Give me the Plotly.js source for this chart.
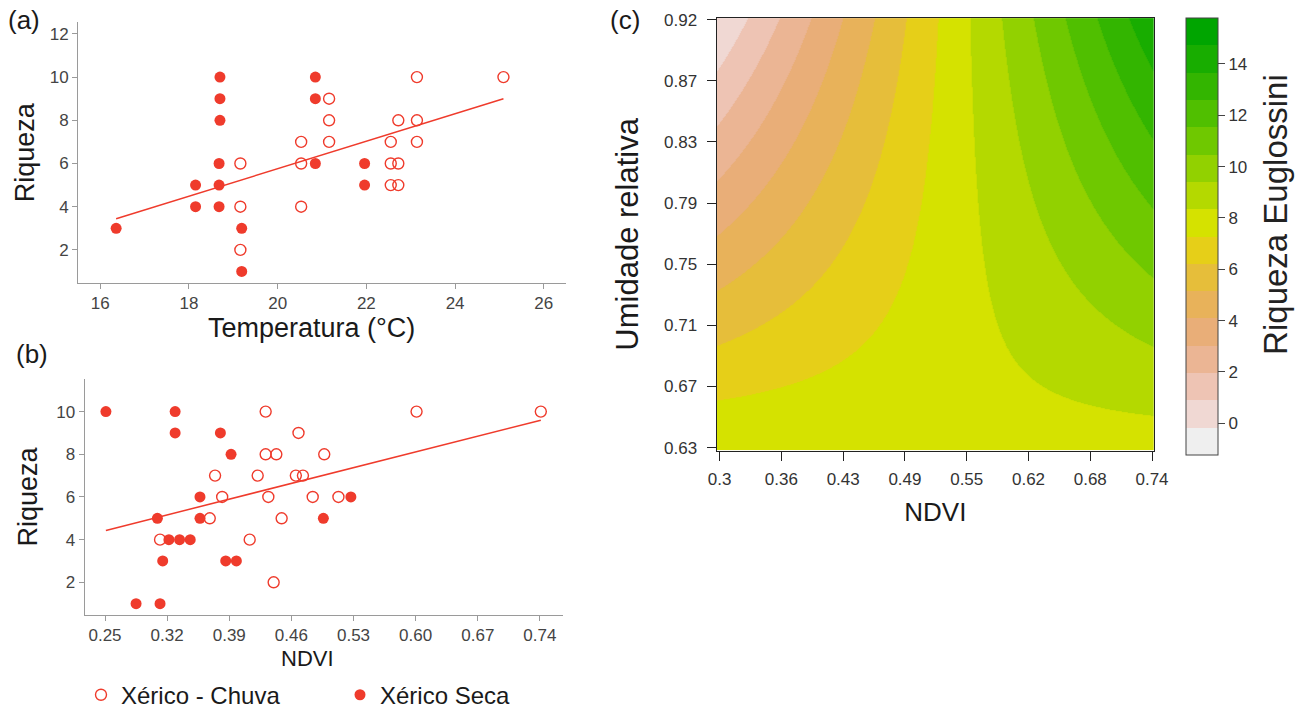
<!DOCTYPE html>
<html>
<head>
<meta charset="utf-8">
<script src="https://cdn.plot.ly/plotly-3.0.1.min.js"></script>
<style>
  html, body { margin: 0; padding: 0; background: #ffffff; }
  #chart { width: 1309px; height: 718px; }
</style>
</head>
<body>
<div id="chart"></div>
<script>
// ---------- (a) Riqueza x Temperatura ----------
const tempSeca = [16.36, 18.15, 18.15, 18.70, 18.70, 18.70, 18.68, 18.68, 18.68, 19.19, 19.19, 20.85, 20.85, 20.85, 21.96, 21.96];
const riqTempSeca = [3, 5, 4, 10, 9, 8, 6, 5, 4, 3, 1, 10, 9, 6, 6, 5];
const tempChuva = [19.16, 19.16, 19.16, 20.53, 20.53, 20.53, 21.16, 21.16, 21.16, 22.55, 22.55, 22.55, 22.72, 22.72, 22.72, 23.14, 23.14, 23.14, 25.09];
const riqTempChuva = [6, 4, 2, 7, 6, 4, 9, 8, 7, 7, 6, 5, 8, 6, 5, 10, 8, 7, 10];
const tempFitX = [16.36, 25.09];
const tempFitY = [3.44, 9.0];
const tempTicks = [16, 18, 20, 22, 24, 26];
const riqTicksA = [2, 4, 6, 8, 10, 12];

// ---------- (b) Riqueza x NDVI ----------
const ndviSeca = [0.251, 0.329, 0.329, 0.380, 0.392, 0.357, 0.357, 0.309, 0.322, 0.334, 0.346, 0.315, 0.386, 0.398, 0.285, 0.312, 0.496, 0.527];
const riqNdviSeca = [10, 10, 9, 9, 8, 6, 5, 5, 4, 4, 4, 3, 3, 3, 1, 1, 5, 6];
const ndviChuva = [0.312, 0.368, 0.374, 0.382, 0.413, 0.422, 0.431, 0.431, 0.443, 0.434, 0.440, 0.449, 0.468, 0.465, 0.473, 0.484, 0.497, 0.513, 0.601, 0.741];
const riqNdviChuva = [4, 5, 7, 6, 4, 7, 10, 8, 8, 6, 2, 5, 9, 7, 7, 6, 8, 6, 10, 10];
const ndviFitX = [0.251, 0.741];
const ndviFitY = [4.43, 9.6];
const ndviTicksB = [0.25, 0.32, 0.39, 0.46, 0.53, 0.60, 0.67, 0.74];
const ndviTickTextB = ['0.25', '0.32', '0.39', '0.46', '0.53', '0.60', '0.67', '0.74'];
const riqTicksB = [2, 4, 6, 8, 10];

// ---------- (c) Riqueza Euglossini surface over NDVI x Umidade relativa ----------
const surfNdvi = [0.297, 0.742];          // grid columns
const surfUmid = [0.628, 0.921];          // grid rows
const surfRiqueza = [[8.24, 7.80],        // row at lowest humidity
                     [-0.14, 14.50]];     // row at highest humidity
const ndviTickTextC = ['0.3', '0.36', '0.43', '0.49', '0.55', '0.62', '0.68', '0.74'];
const umidTickTextC = ['0.63', '0.67', '0.71', '0.75', '0.79', '0.83', '0.87', '0.92'];
const levelStart = -1.24;
const levelSize = 1.064;
const levelColors = ['#efefef', '#f0d8d3', '#eec4b4', '#ebb594', '#e9ae78', '#e8b25a',
                     '#e6be3a', '#e6cf18', '#d5e200', '#b4d900', '#92d100', '#6fc800',
                     '#50bf00', '#33b500', '#18ad00', '#00a500'];
const barTicks = [0, 2, 4, 6, 8, 10, 12, 14];

// ---------- helpers ----------
const W = 1309, H = 718;
const px = v => v / W;
const py = v => 1 - v / H;
const RED = '#ef3b2c';
const FONT = 'Liberation Sans, Arial, Helvetica, sans-serif';

// stepped colour scale, one flat band per level
const nLev = levelColors.length;
const stepScale = [];
levelColors.forEach((c, i) => {
  stepScale.push([i / nLev, c]);
  stepScale.push([(i + 1) / nLev, c]);
});

const tickValsC = (lo, hi, n) => Array.from({length: n}, (_, i) => lo + i * (hi - lo) / (n - 1));

const openMarker = {symbol: 'circle-open', size: 11, color: RED, line: {color: RED, width: 1.4}};
const fillMarker = {symbol: 'circle', size: 11, color: RED, line: {width: 0}};

const traces = [
  // (a)
  {x: tempFitX, y: tempFitY, type: 'scatter', mode: 'lines', line: {color: RED, width: 1.5},
   xaxis: 'x', yaxis: 'y', showlegend: false, hoverinfo: 'skip'},
  {x: tempChuva, y: riqTempChuva, type: 'scatter', mode: 'markers', name: 'Xérico - Chuva',
   marker: openMarker, xaxis: 'x', yaxis: 'y', legend: 'legend'},
  {x: tempSeca, y: riqTempSeca, type: 'scatter', mode: 'markers', name: 'Xérico Seca',
   marker: fillMarker, xaxis: 'x', yaxis: 'y', legend: 'legend2'},
  // (b)
  {x: ndviFitX, y: ndviFitY, type: 'scatter', mode: 'lines', line: {color: RED, width: 1.5},
   xaxis: 'x2', yaxis: 'y2', showlegend: false, hoverinfo: 'skip'},
  {x: ndviChuva, y: riqNdviChuva, type: 'scatter', mode: 'markers', name: 'Xérico - Chuva',
   marker: openMarker, xaxis: 'x2', yaxis: 'y2', showlegend: false},
  {x: ndviSeca, y: riqNdviSeca, type: 'scatter', mode: 'markers', name: 'Xérico Seca',
   marker: fillMarker, xaxis: 'x2', yaxis: 'y2', showlegend: false},
  // (c)
  {type: 'heatmap', x: surfNdvi, y: surfUmid, z: surfRiqueza, zsmooth: 'best',
   xaxis: 'x3', yaxis: 'y3', showlegend: false,
   colorscale: stepScale, zmin: levelStart, zmax: levelStart + nLev * levelSize,
   colorbar: {
     x: px(1186), xanchor: 'left', xpad: 0,
     y: py(18.3), yanchor: 'top', ypad: 0,
     len: 436.7, lenmode: 'pixels', thickness: 32, thicknessmode: 'pixels',
     outlinewidth: 1, outlinecolor: '#444',
     tickmode: 'array', tickvals: barTicks, ticks: 'outside', ticklen: 7, tickcolor: '#444',
     tickfont: {family: FONT, size: 17, color: '#333'},
     title: {text: ''}
   }}
];

const scatterX = {
  showline: true, linecolor: '#9a9a9a', linewidth: 1, showgrid: false, zeroline: false,
  ticks: 'outside', ticklen: 5, tickcolor: '#9a9a9a', tickfont: {size: 17, color: '#444'}
};

const layout = {
  width: W, height: H,
  margin: {l: 0, r: 0, t: 0, b: 0},
  paper_bgcolor: '#ffffff', plot_bgcolor: '#ffffff',
  font: {family: FONT, color: '#222'},
  xaxis: Object.assign({}, scatterX, {
    domain: [px(78), px(566)], range: [15.5, 26.5], anchor: 'y',
    tickmode: 'array', tickvals: tempTicks
  }),
  yaxis: Object.assign({}, scatterX, {
    domain: [py(285.7), py(22.7)], range: [0.47, 12.53], anchor: 'x',
    tickmode: 'array', tickvals: riqTicksA,
    title: {text: 'Riqueza', font: {size: 27, color: '#1a1a1a'}, standoff: 7}
  }),
  xaxis2: Object.assign({}, scatterX, {
    domain: [px(84.6), px(563)], range: [0.227, 0.766], anchor: 'y2',
    tickmode: 'array', tickvals: ndviTicksB, ticktext: ndviTickTextB
  }),
  yaxis2: Object.assign({}, scatterX, {
    domain: [py(621), py(382.7)], range: [0.47, 11.53], anchor: 'x2',
    tickmode: 'array', tickvals: riqTicksB,
    title: {text: 'Riqueza', font: {size: 27, color: '#1a1a1a'}, standoff: 10}
  }),
  xaxis3: {
    domain: [px(716.7), px(1154)], range: surfNdvi, anchor: 'y3',
    showline: true, mirror: true, linecolor: '#222', linewidth: 1.2,
    showgrid: false, zeroline: false, ticks: 'outside', ticklen: 9, tickcolor: '#222',
    tickmode: 'array', tickvals: tickValsC(0.3, 0.74, 8), ticktext: ndviTickTextC,
    tickfont: {size: 17, color: '#333'}, ticklabelstandoff: 4,
    title: {text: 'NDVI', font: {size: 26, color: '#1a1a1a'}, standoff: 14}
  },
  yaxis3: {
    domain: [py(455), py(18.3)], range: surfUmid, anchor: 'x3',
    showline: true, mirror: true, linecolor: '#222', linewidth: 1.2,
    showgrid: false, zeroline: false, ticks: 'outside', ticklen: 9, tickcolor: '#222',
    tickmode: 'array', tickvals: tickValsC(0.63, 0.92, 8), ticktext: umidTickTextC,
    tickfont: {size: 17, color: '#333'}, ticklabelstandoff: 6,
    title: {text: 'Umidade relativa', font: {size: 31, color: '#1a1a1a'}, standoff: 16}
  },
  showlegend: true,
  legend: {
    x: px(81), xanchor: 'left', y: py(702), yanchor: 'middle',
    orientation: 'h', bgcolor: 'rgba(0,0,0,0)', borderwidth: 0,
    font: {family: FONT, size: 24, color: '#1a1a1a'}
  },
  legend2: {
    x: px(340), xanchor: 'left', y: py(702), yanchor: 'middle',
    orientation: 'h', bgcolor: 'rgba(0,0,0,0)', borderwidth: 0,
    font: {family: FONT, size: 24, color: '#1a1a1a'}
  },
  annotations: [
    {text: '(a)', x: px(6), y: py(20), xref: 'paper', yref: 'paper', xanchor: 'left', yanchor: 'middle',
     showarrow: false, font: {size: 26, color: '#1a1a1a'}},
    {text: '(b)', x: px(14), y: py(357), xref: 'paper', yref: 'paper', xanchor: 'left', yanchor: 'middle',
     showarrow: false, font: {size: 26, color: '#1a1a1a'}},
    {text: '(c)', x: px(608), y: py(20), xref: 'paper', yref: 'paper', xanchor: 'left', yanchor: 'middle',
     showarrow: false, font: {size: 26, color: '#1a1a1a'}},
    // x-axis titles of the two scatter panels
    {text: 'Temperatura (°C)', x: px(311), y: py(331), xref: 'paper', yref: 'paper',
     xanchor: 'center', yanchor: 'middle', showarrow: false, font: {size: 27, color: '#1a1a1a'}},
    {text: 'NDVI', x: px(307), y: py(665), xref: 'paper', yref: 'paper',
     xanchor: 'center', yanchor: 'middle', showarrow: false, font: {size: 22, color: '#1a1a1a'}},
    // colour bar title
    {text: 'Riqueza Euglossini', x: px(1276), y: py(217), xref: 'paper', yref: 'paper',
     xanchor: 'center', yanchor: 'middle', textangle: -90, showarrow: false,
     font: {size: 33, color: '#222'}}
  ]
};

Plotly.newPlot('chart', traces, layout, {displayModeBar: false, staticPlot: true});
</script>
</body>
</html>
